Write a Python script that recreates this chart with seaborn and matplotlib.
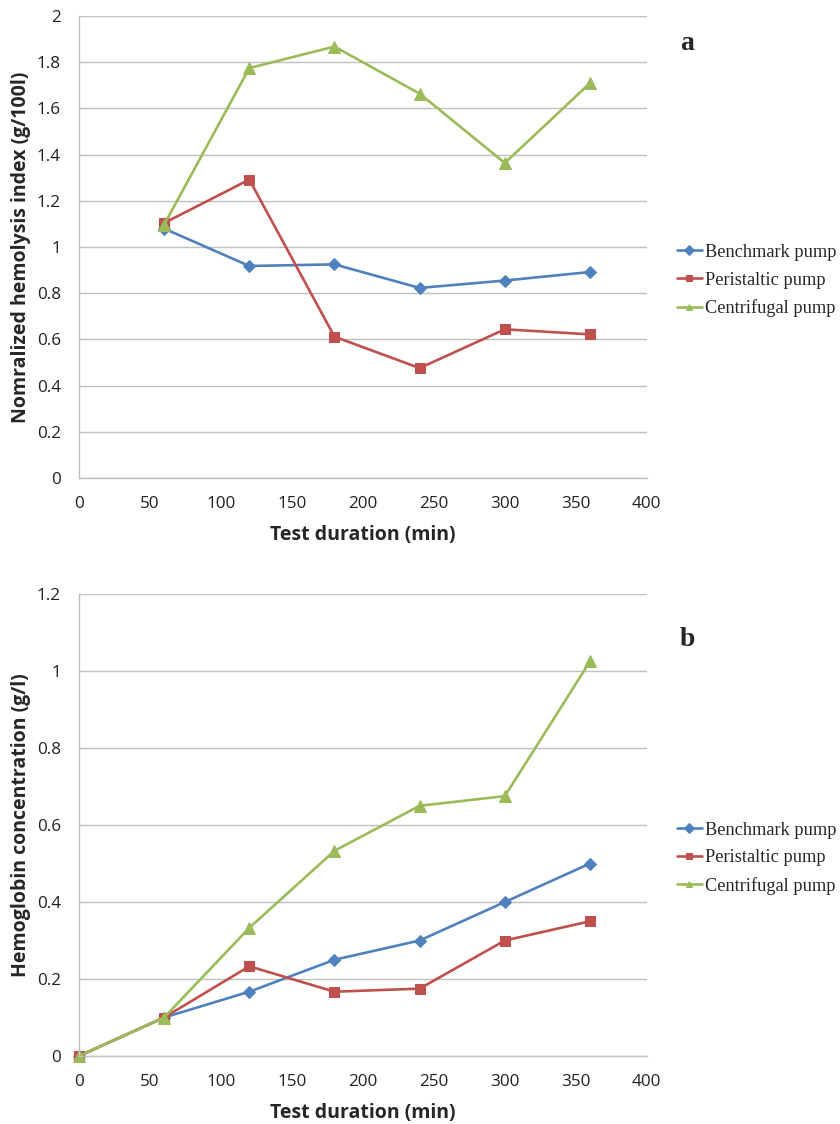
import seaborn as sns
import matplotlib.pyplot as plt
import pandas as pd

# data
time_a = [60, 120, 180, 240, 300, 360]
benchmark_a = [1.08, 0.918, 0.925, 0.823, 0.855, 0.892]
peristaltic_a = [1.104, 1.292, 0.612, 0.476, 0.644, 0.622]
centrifugal_a = [1.097, 1.775, 1.868, 1.664, 1.364, 1.71]

time_b = [0, 60, 120, 180, 240, 300, 360]
benchmark_b = [0, 0.1, 0.167, 0.25, 0.3, 0.4, 0.5]
peristaltic_b = [0, 0.1, 0.233, 0.167, 0.175, 0.3, 0.35]
centrifugal_b = [0, 0.1, 0.333, 0.533, 0.65, 0.675, 1.025]

pumps = ['Benchmark pump', 'Peristaltic pump', 'Centrifugal pump']
colors = {'Benchmark pump': '#4F81BD', 'Peristaltic pump': '#C0504D', 'Centrifugal pump': '#9BBB59'}
markers = {'Benchmark pump': 'D', 'Peristaltic pump': 's', 'Centrifugal pump': '^'}
sizes = {'Benchmark pump': 6, 'Peristaltic pump': 7.5, 'Centrifugal pump': 8.5}


def to_long(t, series):
    rows = []
    for name, vals in zip(pumps, series):
        for x, y in zip(t, vals):
            rows.append({'time': x, 'value': y, 'pump': name})
    return pd.DataFrame(rows)


df_a = to_long(time_a, [benchmark_a, peristaltic_a, centrifugal_a])
df_b = to_long(time_b, [benchmark_b, peristaltic_b, centrifugal_b])

sns.set_style('white')
plt.rcParams['font.family'] = ['Open Sans', 'DejaVu Sans']

fig = plt.figure(figsize=(8.4, 11.24), dpi=100)
ax_a = fig.add_axes([0.094, 0.5747, 0.676, 0.411])
ax_b = fig.add_axes([0.094, 0.0605, 0.676, 0.411])

panels = [
    (ax_a, df_a, 2.0, 0.2, 'Nomralized hemolysis index (g/100l)', 'a', 0.9615, [0.806, 0.783]),
    (ax_b, df_b, 1.2, 0.2, 'Hemoglobin concentration (g/l)', 'b', 0.431, [0.806, 0.269]),
]

for ax, df, ymax, ystep, ylabel, letter, letter_y, leg_pos in panels:
    for name in pumps:
        sub = df[df['pump'] == name]
        sns.lineplot(data=sub, x='time', y='value', ax=ax, color=colors[name],
                     marker=markers[name], markersize=sizes[name],
                     markeredgecolor=colors[name], linewidth=1.9, label=name)
    ax.set_xlim(0, 400)
    ax.set_ylim(0, ymax)
    ax.set_xticks(range(0, 401, 50))
    yt = [round(i * ystep, 1) for i in range(int(round(ymax / ystep)) + 1)]
    ax.set_yticks(yt)
    ax.set_yticklabels([('%g' % v) for v in yt])
    ax.yaxis.grid(True, color='#BFBFBF', linewidth=1)
    ax.xaxis.grid(False)
    for s in ['top', 'right']:
        ax.spines[s].set_visible(False)
    for s in ['left', 'bottom']:
        ax.spines[s].set_color('#BFBFBF')
        ax.spines[s].set_linewidth(1)
    ax.tick_params(axis='both', direction='out', length=5, width=1, color='#BFBFBF',
                   labelsize=12.3, labelcolor='#222222', pad=8)
    ax.set_xlabel('Test duration (min)', fontsize=14, fontweight='bold', labelpad=9)
    ax.set_ylabel(ylabel, fontsize=14, fontweight='bold', labelpad=4)
    for line in ax.lines:
        line.set_clip_on(False)

    handles, labels = ax.get_legend_handles_labels()
    ax.legend(handles, labels, loc='upper left', bbox_to_anchor=leg_pos,
              bbox_transform=fig.transFigure, frameon=False,
              prop={'family': 'Liberation Serif', 'size': 13.2},
              handlelength=1.35, handletextpad=0.15, labelspacing=0.58,
              borderaxespad=0, borderpad=0)
    for h in ax.get_legend().legend_handles:
        h.set_markersize(5)
        h.set_linewidth(1.9)

    fig.text(0.818, letter_y, letter, fontsize=20, fontweight='bold',
             family='Liberation Serif', ha='center', va='center')

fig.savefig('out.png', dpi=100)
